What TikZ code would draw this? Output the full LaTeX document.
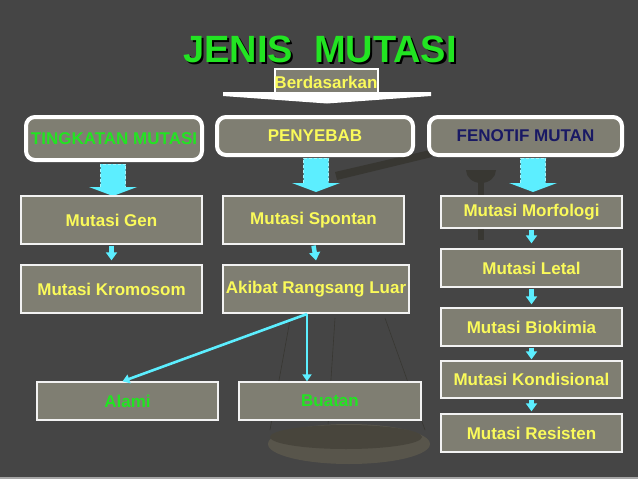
\documentclass[tikz,border=0pt]{standalone}
\usepackage{fontspec}
\setmainfont{Liberation Sans}
\usetikzlibrary{arrows.meta,calc}
\definecolor{bgc}{RGB}{69,69,69}
\definecolor{boxg}{RGB}{127,126,114}
\definecolor{ylw}{RGB}{250,250,90}
\definecolor{grn}{RGB}{34,228,34}
\definecolor{navy}{RGB}{25,25,100}
\definecolor{cyn}{RGB}{92,238,255}
\definecolor{decor}{RGB}{56,55,50}
\definecolor{panout}{RGB}{88,85,75}
\definecolor{panin}{RGB}{72,69,60}
\tikzset{
  txt/.style={font=\fontsize{17}{20}\selectfont\bfseries},
  topbox/.style={draw=white, line width=4pt, rounded corners=9pt, fill=boxg, inner sep=0pt, txt},
  sqbox/.style={draw=white!90!gray, line width=1.3pt, fill=boxg, inner sep=0pt, txt, text=ylw},
  smallarrow/.style={draw=cyn, line width=4.5pt, -{Triangle[width=11pt,length=8pt]}},
  link/.style={draw=cyn, line width=2.6pt, -{Triangle[width=9pt,length=7pt]}},
}
\newcommand{\fatarr}[4]{% x, top, headstart, tip
  \fill[cyn] (#1-12.5,#2) -- (#1+12.5,#2) -- (#1+12.5,#3) -- (#1+24,#3) -- (#1,#4) -- (#1-24,#3) -- (#1-12.5,#3) -- cycle;
  \draw[cyn!55!white, densely dashed, line width=0.6pt] (#1-12.5,#3) -- (#1-12.5,#2) -- (#1+12.5,#2) -- (#1+12.5,#3);
}
\begin{document}
\begin{tikzpicture}[x=1pt,y=-1pt]
\useasboundingbox (0,0) rectangle (638,479);
\fill[bgc] (0,0) rectangle (638,479);
\fill[gray!70] (0,476.5) rectangle (638,479);
% faint background scale
\fill[decor] (335,172) -- (430,150) -- (432,157) -- (337,180) -- cycle;
\fill[decor] (466,170) arc[start angle=180,end angle=0,x radius=15,y radius=13] -- cycle;
\fill[decor] (478,170) rectangle (484,240);
\draw[decor, line width=0.6pt] (290,320) -- (270,430) (335,318) -- (328,425) (385,318) -- (425,430);
\fill[panout] (349,444) ellipse[x radius=81,y radius=20];
\fill[panin] (346,437) ellipse[x radius=76,y radius=12];

% title with shadow
\node[font=\fontsize{38}{40}\selectfont\bfseries, anchor=base] (title) at (320,62)
  {\makebox[0pt][l]{\hspace{2.2pt}\raisebox{-2.2pt}{\color{black}JENIS\ \ MUTASI}}\color{grn}JENIS\ \ MUTASI};

% Berdasarkan block arrow
\fill[boxg] (275,69) rectangle (378,93);
\draw[white, line width=1.8pt] (275,94) -- (275,69) -- (378,69) -- (378,94);
\fill[white] (223,92) -- (431,92) -- (431,96) -- (327,103.5) -- (223,96) -- cycle;
\node[txt, text=ylw, anchor=base] (berd) at (326,88) {Berdasarkan};

% top categories
\node[topbox, minimum width=176pt, minimum height=43pt, text=grn] (b1) at (114,138.5) {TINGKATAN MUTASI};
\node[topbox, minimum width=196pt, minimum height=38pt, text=ylw] (b2) at (315,136) {PENYEBAB};
\node[topbox, minimum width=193pt, minimum height=38pt, text=navy] (b3) at (525.5,136) {FENOTIF MUTAN};

\fatarr{113}{164}{187}{196}
\fatarr{316}{158}{183}{192}
\fatarr{533}{158}{183}{192}

% left column
\node[sqbox, minimum width=181pt, minimum height=48pt] (g1) at (111.5,220) {Mutasi Gen};
\node[sqbox, minimum width=181pt, minimum height=48pt] (g2) at (111.5,289) {Mutasi Kromosom};
% middle column
\node[sqbox, minimum width=181pt, minimum height=48pt] (s1) at (313.5,220) {Mutasi Spontan};
\node[sqbox, minimum width=186pt, minimum height=48pt] (s2) at (316,289) {Akibat Rangsang Luar};
% right column
\node[sqbox, minimum width=181pt, minimum height=32pt] (r1) at (531.5,212) {Mutasi Morfologi};
\node[sqbox, minimum width=181pt, minimum height=38pt] (r2) at (531.5,268) {Mutasi Letal};
\node[sqbox, minimum width=181pt, minimum height=38pt] (r3) at (531.5,327) {Mutasi Biokimia};
\node[sqbox, minimum width=181pt, minimum height=37pt] (r4) at (531.5,379.5) {Mutasi Kondisional};
\node[sqbox, minimum width=181pt, minimum height=38pt] (r5) at (531.5,433) {Mutasi Resisten};
% bottom
\node[sqbox, minimum width=181pt, minimum height=38pt, text=grn] (alami) at (127.5,401) {Alami};
\node[sqbox, minimum width=182pt, minimum height=38pt, text=grn] (buatan) at (330,401) {Buatan};

% small arrows
\draw[smallarrow] ($(g1.south)+(0,1)$) -- ($(g2.north)+(0,-4)$);
\draw[smallarrow] ($(s1.south)+(0,1)$) -- ($(s2.north)+(0,-4)$);
\draw[smallarrow] ($(r1.south)+(0,1)$) -- ($(r2.north)+(0,-5)$);
\draw[smallarrow] ($(r2.south)+(0,1)$) -- ($(r3.north)+(0,-3)$);
\draw[smallarrow] ($(r3.south)+(0,1)$) -- ($(r4.north)+(0,-1)$);
\draw[smallarrow] ($(r4.south)+(0,1)$) -- ($(r5.north)+(0,-2)$);

% split connectors
\coordinate (split) at (307,314);
\draw[link] (split) -- ($(alami.north)+(-5,0)$);
\draw[link] (split) -- (split |- buatan.north);
\end{tikzpicture}
\end{document}
